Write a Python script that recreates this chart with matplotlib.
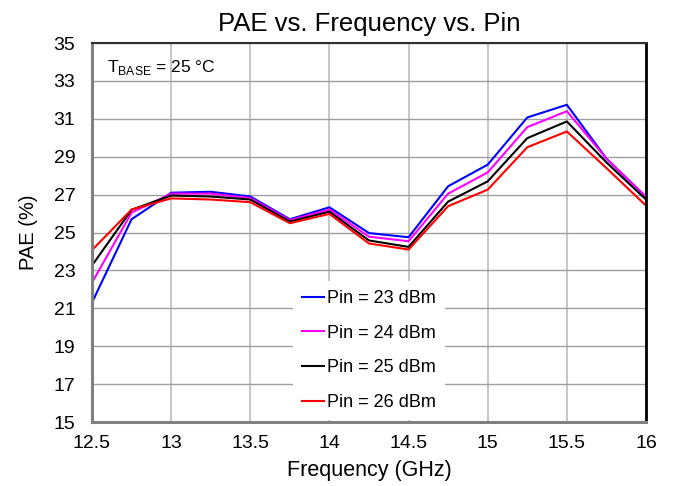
import matplotlib
matplotlib.use("Agg")
import matplotlib.pyplot as plt

plt.rcParams['font.family'] = ['Liberation Sans', 'DejaVu Sans']
plt.rcParams['mathtext.fontset'] = 'custom'
plt.rcParams['mathtext.rm'] = 'Liberation Sans'

freq = [12.5, 12.75, 13.0, 13.25, 13.5, 13.75, 14.0, 14.25, 14.5, 14.75, 15.0, 15.25, 15.5, 15.75, 16.0]
pae_23 = [21.3, 25.7, 27.1, 27.15, 26.9, 25.7, 26.33, 24.97, 24.75, 27.44, 28.58, 31.07, 31.74, 28.9, 26.88]
pae_24 = [22.35, 26.05, 27.05, 27.05, 26.82, 25.65, 26.21, 24.78, 24.54, 27.05, 28.17, 30.56, 31.4, 28.9, 26.88]
pae_25 = [23.26, 26.2, 26.95, 26.9, 26.74, 25.58, 26.1, 24.58, 24.24, 26.63, 27.7, 29.98, 30.86, 28.7, 26.74]
pae_26 = [24.07, 26.21, 26.8, 26.74, 26.6, 25.49, 25.98, 24.42, 24.1, 26.39, 27.26, 29.5, 30.33, 28.4, 26.42]

series = [pae_23, pae_24, pae_25, pae_26]
labels = ['Pin = 23 dBm', 'Pin = 24 dBm', 'Pin = 25 dBm', 'Pin = 26 dBm']
colors = ['#0000ff', '#ff00ff', '#000000', '#ff0000']

x_ticks = [12.5, 13, 13.5, 14, 14.5, 15, 15.5, 16]
x_tick_labels = ['12.5', '13', '13.5', '14', '14.5', '15', '15.5', '16']
y_ticks = list(range(15, 36, 2))

fig = plt.figure(figsize=(6.76, 4.86), dpi=100)
ax = fig.add_axes([92 / 676, 1 - 422 / 486, (646 - 92) / 676, (422 - 43) / 486])

for vals, lab, col in zip(series, labels, colors):
    ax.plot(freq, vals, color=col, linewidth=1.5, label=lab)

ax.set_xlim(12.5, 16)
ax.set_ylim(15, 35)
ax.set_xticks(x_ticks)
ax.set_xticklabels(x_tick_labels)
ax.set_yticks(y_ticks)
ax.tick_params(labelsize=14, length=0)
ax.tick_params(axis='x', pad=9)
ax.tick_params(axis='y', pad=12)
ax.grid(True, axis='x', color='#c8c8c8', linewidth=1.5)
ax.grid(True, axis='y', color='#a0a0a0', linewidth=1)
ax.set_axisbelow(True)

ax.spines['left'].set_color('#808080')
ax.spines['left'].set_linewidth(2.2)
ax.spines['bottom'].set_color('#808080')
ax.spines['bottom'].set_linewidth(2.2)
ax.spines['right'].set_color('black')
ax.spines['right'].set_linewidth(2)
ax.spines['top'].set_color('#303030')
ax.spines['top'].set_linewidth(1.5)

ax.set_title('PAE vs. Frequency vs. Pin', fontsize=18.5, pad=9)
ax.set_xlabel('Frequency (GHz)', fontsize=15.5, labelpad=6)
ax.set_ylabel('PAE (%)', fontsize=14.5, labelpad=11)

ax.text(0.027, 0.935, r'T$_{\mathrm{BASE}}$ = 25 °C', transform=ax.transAxes,
        fontsize=12.5, va='center', ha='left')

leg = ax.legend(loc='lower center', bbox_to_anchor=(0.5, 0.0), fontsize=13,
                handlelength=1.2, handletextpad=0.15, labelspacing=0.98,
                frameon=True, facecolor='white', edgecolor='none', framealpha=1,
                borderpad=0.5, borderaxespad=0.1)

fig.savefig('out.png', dpi=100)
